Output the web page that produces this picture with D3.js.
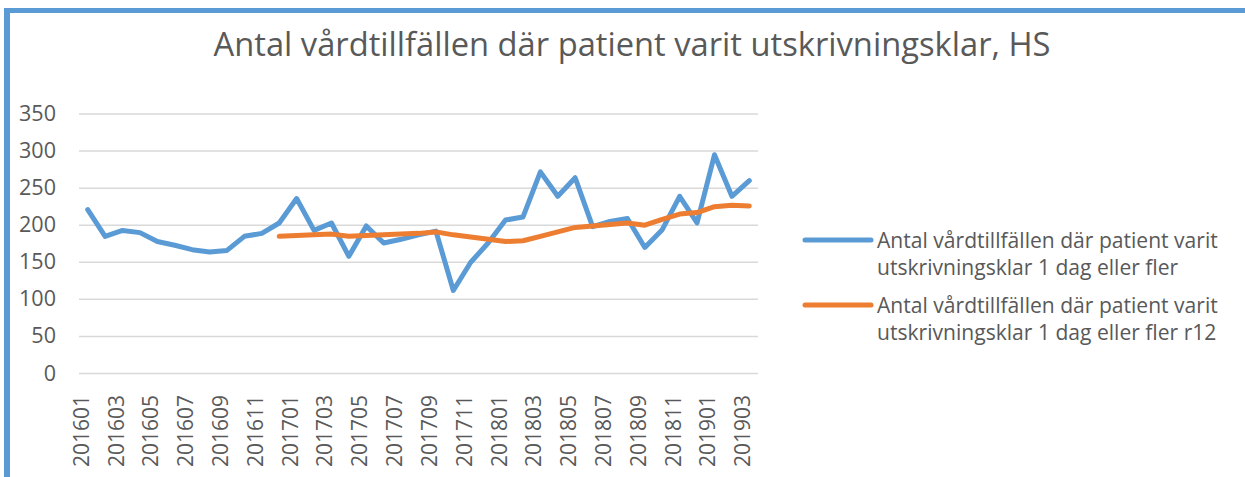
<!DOCTYPE html>
<html>
<head>
<meta charset="utf-8">
<script src="https://cdn.jsdelivr.net/npm/d3@7"></script>
<style>
  body { margin: 0; background: #fff; }
  svg text { font-family: "Open Sans", sans-serif; fill: #595959; }
</style>
</head>
<body>
<svg id="chart"></svg>
<script>
var width = 1245, height = 477;

// months 201601 .. 201903
var months = ["201601","201602","201603","201604","201605","201606","201607","201608","201609","201610","201611","201612",
  "201701","201702","201703","201704","201705","201706","201707","201708","201709","201710","201711","201712",
  "201801","201802","201803","201804","201805","201806","201807","201808","201809","201810","201811","201812",
  "201901","201902","201903"];

var monthly = [221,185,193,190,178,173,167,164,166,185,189,203,
  236,193,203,158,199,176,181,187,192,112,150,176,
  207,211,272,239,264,198,205,209,170,194,239,203,
  295,239,260];

// rolling 12, starts at 201612
var r12 = [null,null,null,null,null,null,null,null,null,null,null,185,
  186,187,188,185,186,187,188,189,191,187,184,181,
  178,179,185,191,197,199,201,203,200,208,215,217,
  225,227,226];

var yTicks = [0,50,100,150,200,250,300,350];
var seriesNames = [
  ["Antal vårdtillfällen där patient varit", "utskrivningsklar 1 dag eller fler"],
  ["Antal vårdtillfällen där patient varit", "utskrivningsklar 1 dag eller fler r12"]
];
var colors = ["#5B9BD5", "#ED7D31"];

var svg = d3.select("#chart").attr("width", width).attr("height", height);

// scale a text's font so that it gets the wanted width
function fitText(sel, w){
  sel.style("font-size", "100px");
  var len = sel.node().getComputedTextLength();
  sel.style("font-size", (100 * w / len) + "px");
  return 100 * w / len;
}

// frame
svg.append("rect").attr("x", 4).attr("y", 8).attr("width", 1241).attr("height", 5).attr("fill", "#5B9BD5");
svg.append("rect").attr("x", 4).attr("y", 8).attr("width", 6).attr("height", 469).attr("fill", "#5B9BD5");

var title = svg.append("text")
  .attr("x", 632).attr("y", 56)
  .attr("text-anchor", "middle")
  .text("Antal vårdtillfällen där patient varit utskrivningsklar, HS");
fitText(title, 837);

var x = d3.scaleBand().domain(months).range([79, 758]);
var y = d3.scaleLinear().domain([0, 350]).range([373.5, 114]);

// gridlines
svg.append("g").selectAll("line")
  .data(yTicks)
  .enter().append("line")
  .attr("x1", 79).attr("x2", 758)
  .attr("y1", function(d){ return y(d); })
  .attr("y2", function(d){ return y(d); })
  .attr("stroke", "#d9d9d9").attr("stroke-width", 1.5);

// y labels
var probe = svg.append("text").text("350");
var ySize = fitText(probe, 37);
probe.remove();
svg.append("g").selectAll("text")
  .data(yTicks)
  .enter().append("text")
  .attr("x", 56)
  .attr("y", function(d){ return y(d) + 7; })
  .attr("text-anchor", "end")
  .style("font-size", ySize + "px")
  .text(function(d){ return d; });

// x labels, every second month
probe = svg.append("text").text("201601");
var xSize = fitText(probe, 72);
probe.remove();
svg.append("g").selectAll("text")
  .data(months.filter(function(d, i){ return i % 2 == 0; }))
  .enter().append("text")
  .attr("transform", function(d){ return "translate(" + (x(d) + x.bandwidth()/2 + 1) + ",467) rotate(-90)"; })
  .attr("text-anchor", "start")
  .style("font-size", xSize + "px")
  .text(function(d){ return d; });

var line = d3.line()
  .defined(function(d){ return d != null; })
  .x(function(d, i){ return x(months[i]) + x.bandwidth()/2; })
  .y(function(d){ return y(d); });

[monthly, r12].forEach(function(s, k){
  svg.append("path")
    .datum(s)
    .attr("d", line)
    .attr("fill", "none")
    .attr("stroke", colors[k])
    .attr("stroke-width", 5)
    .attr("stroke-linejoin", "round")
    .attr("stroke-linecap", "round");
});

// legend
probe = svg.append("text").text(seriesNames[0][0]);
var lSize = fitText(probe, 341);
probe.remove();

var legend = svg.selectAll(".legend")
  .data(seriesNames)
  .enter().append("g")
  .attr("class", "legend")
  .attr("transform", function(d, i){ return "translate(0," + i * 65 + ")"; });

legend.append("line")
  .attr("x1", 805).attr("x2", 871)
  .attr("y1", 240).attr("y2", 240)
  .attr("stroke", function(d, i){ return colors[i]; })
  .attr("stroke-width", 5)
  .attr("stroke-linecap", "round");

legend.append("text")
  .attr("x", 877).attr("y", 248)
  .style("font-size", lSize + "px")
  .text(function(d){ return d[0]; });
legend.append("text")
  .attr("x", 877).attr("y", 275)
  .style("font-size", lSize + "px")
  .text(function(d){ return d[1]; });
</script>
</body>
</html>
